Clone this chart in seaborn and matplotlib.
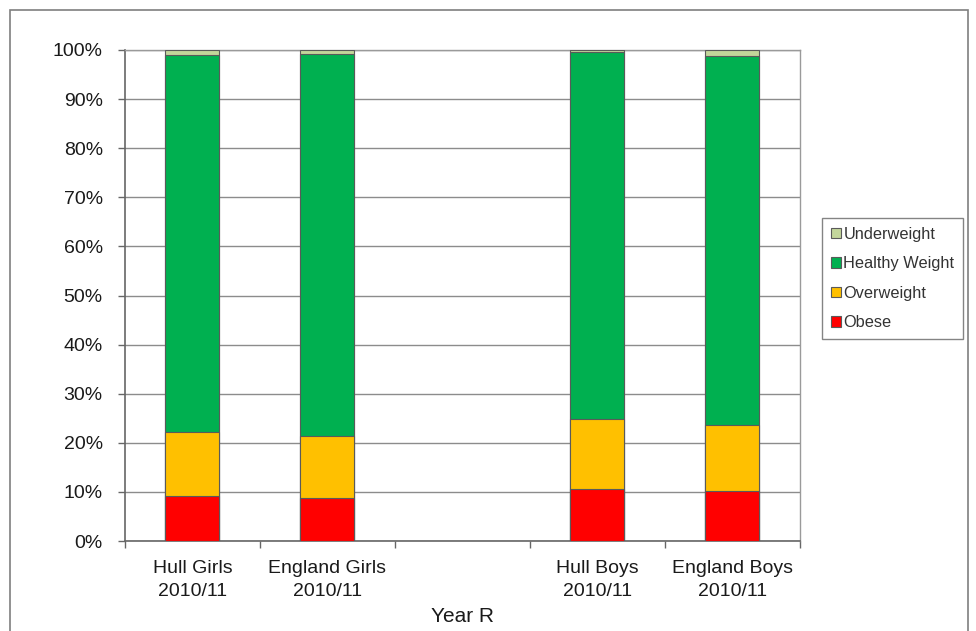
import matplotlib
matplotlib.use("Agg")
import matplotlib.pyplot as plt
from matplotlib.patches import Patch, Rectangle
from matplotlib.ticker import FixedLocator, PercentFormatter
import numpy as np
import pandas as pd
import seaborn as sns

# Weight category shares (%) for Year R children, 2010/11
groups = ["Hull Girls\n2010/11", "England Girls\n2010/11",
          "Hull Boys\n2010/11", "England Boys\n2010/11"]
obese = [9.2, 8.8, 10.6, 10.2]
overweight = [12.9, 12.6, 14.2, 13.5]
healthy = [76.8, 77.8, 74.7, 75.0]
underweight = [1.1, 0.8, 0.5, 1.3]

categories = ["Underweight", "Healthy Weight", "Overweight", "Obese"]
colors = {"Underweight": "#C3D69B", "Healthy Weight": "#00B050",
          "Overweight": "#FFC000", "Obese": "#FF0000"}

# blank slot separating girls from boys
order = groups[:2] + [" "] + groups[2:]

df = pd.DataFrame({"group": groups, "Obese": obese, "Overweight": overweight,
                   "Healthy Weight": healthy, "Underweight": underweight})
# cumulative tops for stacking (bottom-up: Obese, Overweight, Healthy, Underweight)
stack = ["Obese", "Overweight", "Healthy Weight", "Underweight"]
cum = df[stack].cumsum(axis=1)

sns.set_theme(style="white")
plt.rcParams["font.family"] = ["Liberation Sans", "DejaVu Sans"]

fig = plt.figure(figsize=(9.76, 6.31), dpi=100)
ax = fig.add_axes([125 / 976, 1 - 541 / 631, 675 / 976, 491 / 631])

# draw tallest layer first so lower segments sit on top of it
for cat in reversed(stack):
    layer = pd.DataFrame({"group": df["group"], "top": cum[cat]})
    sns.barplot(data=layer, x="group", y="top", order=order, color=colors[cat],
                saturation=1, width=0.4, edgecolor="#5a5a5a", linewidth=0.8,
                ax=ax, zorder=3)

ax.set_ylim(0, 100)
ax.set_xlim(-0.5, 4.5)
ax.yaxis.set_major_locator(FixedLocator(np.arange(0, 101, 10)))
ax.yaxis.set_major_formatter(PercentFormatter(decimals=0))
ax.grid(axis="y", color="#8c8c8c", linewidth=1.0, zorder=0)
ax.set_axisbelow(True)

# category boundary ticks on x, labels centred between them
ax.set_xticks(range(len(order)))
ax.set_xticklabels([g if g.strip() else "" for g in order], linespacing=1.45)
ax.xaxis.set_minor_locator(FixedLocator(np.arange(-0.5, 4.6, 1)))
ax.tick_params(axis="x", which="major", length=0, pad=14, labelsize=14,
               labelcolor="#1a1a1a")
ax.tick_params(axis="x", which="minor", length=5, width=1, color="#666666",
               direction="out", bottom=True)
ax.tick_params(axis="y", which="major", length=5, width=1, color="#666666",
               direction="out", left=True, labelsize=14, labelcolor="#1a1a1a",
               pad=11)

for side in ["left", "bottom"]:
    ax.spines[side].set_color("#666666")
    ax.spines[side].set_linewidth(1.2)
for side in ["top", "right"]:
    ax.spines[side].set_color("#9a9a9a")
    ax.spines[side].set_linewidth(1.0)

ax.set_ylabel("")
ax.set_xlabel("Year R", fontsize=15, color="#1a1a1a", labelpad=5)

handles = [Patch(facecolor=colors[c], edgecolor="#5a5a5a", linewidth=0.8,
                 label=c) for c in categories]
leg = fig.legend(handles=handles, loc="upper left",
                 bbox_to_anchor=(822 / 976, 1 - 218 / 631),
                 frameon=True, fontsize=11.8, handlelength=0.6,
                 handleheight=0.6, handletextpad=0.15, labelspacing=0.88,
                 borderpad=0.55, borderaxespad=0, fancybox=False,
                 labelcolor="#333333")
leg.get_frame().set_edgecolor("#666666")
leg.get_frame().set_linewidth(1.0)

# outer chart border
fig.add_artist(Rectangle((10 / 976, -0.05), 958 / 976, 1 - 10 / 631 + 0.05,
                         transform=fig.transFigure, fill=False,
                         edgecolor="#7f7f7f", linewidth=1.2))

fig.savefig("out.png", dpi=100, facecolor="white")
